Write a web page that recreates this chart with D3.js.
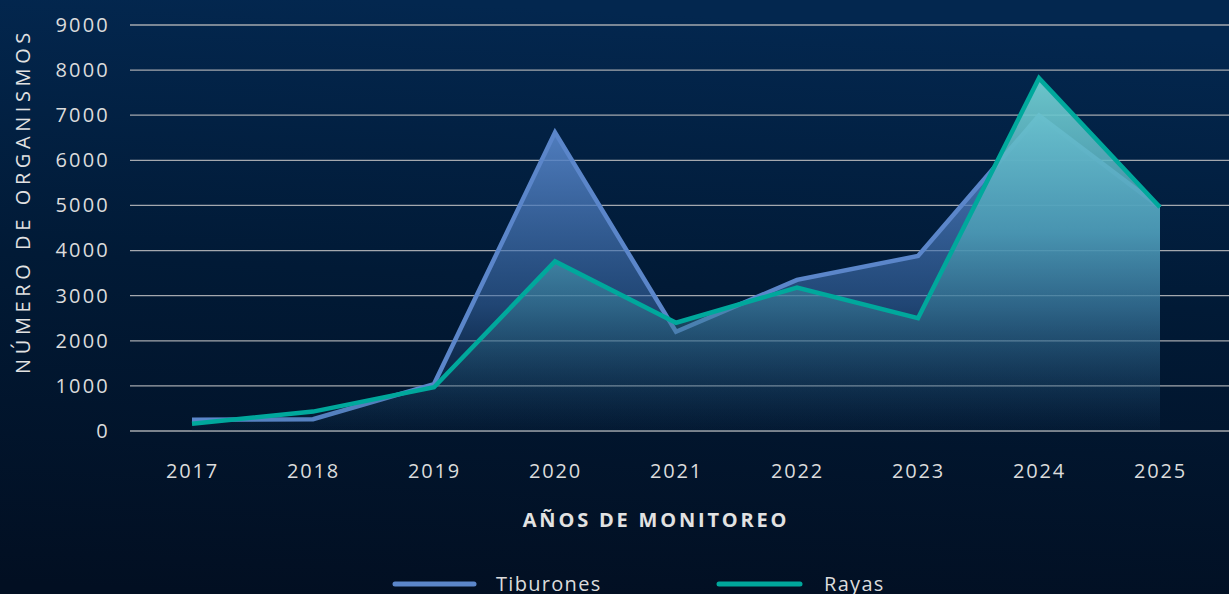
<!DOCTYPE html>
<html>
<head>
<meta charset="utf-8">
<script src="https://cdn.jsdelivr.net/npm/d3@7"></script>
<style>
  html, body { margin: 0; padding: 0; background: #021328; overflow: hidden; }
  #chart-area { width: 1229px; height: 594px; }
  text { font-family: "Open Sans", "DejaVu Sans", sans-serif; }
</style>
</head>
<body>
<div id="chart-area"></div>
<script>
// Data
var years = ["2017", "2018", "2019", "2020", "2021", "2022", "2023", "2024", "2025"];
var tiburones = [250, 260, 1040, 6620, 2200, 3350, 3880, 6990, 4960];
var rayas = [160, 430, 970, 3760, 2400, 3180, 2500, 7820, 4960];
var yTicks = [0, 1000, 2000, 3000, 4000, 5000, 6000, 7000, 8000, 9000];

var seriesColors = { "Tiburones": "#5b86ca", "Rayas": "#00a89c" };

// Canvas Size
var canvasWidth = 1229;
var canvasHeight = 594;

var canvas = d3.select("#chart-area")
	.append("svg")
	.attr("width", canvasWidth)
	.attr("height", canvasHeight);

var defs = canvas.append("defs");

// Background gradient
var bg = defs.append("linearGradient")
	.attr("id", "bg")
	.attr("x1", 0.3).attr("y1", 0)
	.attr("x2", 0.2).attr("y2", 1);
bg.append("stop").attr("offset", "0%").attr("stop-color", "#03274f");
bg.append("stop").attr("offset", "45%").attr("stop-color", "#011a36");
bg.append("stop").attr("offset", "100%").attr("stop-color", "#020f22");

canvas.append("rect")
	.attr("width", canvasWidth)
	.attr("height", canvasHeight)
	.attr("fill", "url(#bg)");

// Scales
var x = d3.scalePoint()
	.domain(years)
	.range([192, 1160]);

var y = d3.scaleLinear()
	.domain([0, 9000])
	.range([431, 25]);

// Area gradients (in user space, top to bottom)
var gT = defs.append("linearGradient")
	.attr("id", "gradT")
	.attr("gradientUnits", "userSpaceOnUse")
	.attr("x1", 0).attr("y1", y(7000))
	.attr("x2", 0).attr("y2", y(0));
gT.append("stop").attr("offset", "0%").attr("stop-color", "#5a88cc").attr("stop-opacity", 0.95);
gT.append("stop").attr("offset", "60%").attr("stop-color", "#3a6aa8").attr("stop-opacity", 0.55);
gT.append("stop").attr("offset", "100%").attr("stop-color", "#1a3a66").attr("stop-opacity", 0.05);

var gR = defs.append("linearGradient")
	.attr("id", "gradR")
	.attr("gradientUnits", "userSpaceOnUse")
	.attr("x1", 0).attr("y1", y(8000))
	.attr("x2", 0).attr("y2", y(0));
gR.append("stop").attr("offset", "0%").attr("stop-color", "#74d2d4").attr("stop-opacity", 0.95);
gR.append("stop").attr("offset", "45%").attr("stop-color", "#4ea2b8").attr("stop-opacity", 0.8);
gR.append("stop").attr("offset", "100%").attr("stop-color", "#1a4a66").attr("stop-opacity", 0.05);

// Gridlines
canvas.append("g")
	.selectAll("line")
	.data(yTicks)
	.enter()
	.append("line")
	.attr("x1", 130)
	.attr("x2", canvasWidth)
	.attr("y1", function(d){ return y(d); })
	.attr("y2", function(d){ return y(d); })
	.attr("stroke", "#a4a8ae")
	.attr("stroke-width", 1.3);

// Y-axis labels
var yAxis = canvas.append("g")
	.attr("transform", "translate(119,0)")
	.call(d3.axisLeft(y).tickValues(yTicks).tickSize(0).tickPadding(9).tickFormat(function(d){ return d; }));
yAxis.select(".domain").remove();
yAxis.selectAll("text")
	.attr("font-size", "20px")
	.attr("letter-spacing", "2.2px")
	.attr("font-family", "\"Open Sans\", sans-serif")
	.attr("fill", "#dcdcdc");

// X-axis labels
var xAxis = canvas.append("g")
	.attr("transform", "translate(0,464)")
	.call(d3.axisBottom(x).tickSize(0).tickPadding(0));
xAxis.select(".domain").remove();
xAxis.selectAll("text")
	.attr("font-size", "20px")
	.attr("letter-spacing", "1.8px")
	.attr("font-family", "\"Open Sans\", sans-serif")
	.attr("fill", "#dcdcdc");

// Areas and lines
var area = d3.area()
	.x(function(d, i){ return x(years[i]); })
	.y0(y(0))
	.y1(function(d){ return y(d); });

var line = d3.line()
	.x(function(d, i){ return x(years[i]); })
	.y(function(d){ return y(d); });

canvas.append("path")
	.datum(tiburones)
	.attr("d", area)
	.attr("fill", "url(#gradT)");

canvas.append("path")
	.datum(tiburones)
	.attr("d", line)
	.attr("fill", "none")
	.attr("stroke", seriesColors["Tiburones"])
	.attr("stroke-width", 4.5)
	.attr("stroke-linejoin", "miter");

canvas.append("path")
	.datum(rayas)
	.attr("d", area)
	.attr("fill", "url(#gradR)");

canvas.append("path")
	.datum(rayas)
	.attr("d", line)
	.attr("fill", "none")
	.attr("stroke", seriesColors["Rayas"])
	.attr("stroke-width", 4.5)
	.attr("stroke-linejoin", "miter");

// Axis titles
canvas.append("text")
	.attr("x", 656)
	.attr("y", 527)
	.attr("text-anchor", "middle")
	.attr("font-size", "20px")
	.attr("font-weight", "bold")
	.attr("letter-spacing", "2.8px")
	.attr("fill", "#e2e2e2")
	.text("AÑOS DE MONITOREO");

canvas.append("text")
	.attr("transform", "translate(30,201) rotate(-90)")
	.attr("text-anchor", "middle")
	.attr("font-size", "20px")
	.attr("letter-spacing", "4.6px")
	.attr("fill", "#e2e2e2")
	.text("NÚMERO DE ORGANISMOS");

// Legend
var legendItems = [
	{ name: "Tiburones", x1: 395, x2: 474, tx: 496 },
	{ name: "Rayas", x1: 719, x2: 800, tx: 824 }
];

var legend = canvas.append("g");
legendItems.forEach(function(item){
	legend.append("line")
		.attr("x1", item.x1)
		.attr("x2", item.x2)
		.attr("y1", 584)
		.attr("y2", 584)
		.attr("stroke", seriesColors[item.name])
		.attr("stroke-width", 5)
		.attr("stroke-linecap", "round");
	legend.append("text")
		.attr("x", item.tx)
		.attr("y", 591)
		.attr("font-size", "20px")
		.attr("letter-spacing", "1.3px")
		.attr("fill", "#dcdcdc")
		.text(item.name);
});
</script>
</body>
</html>
